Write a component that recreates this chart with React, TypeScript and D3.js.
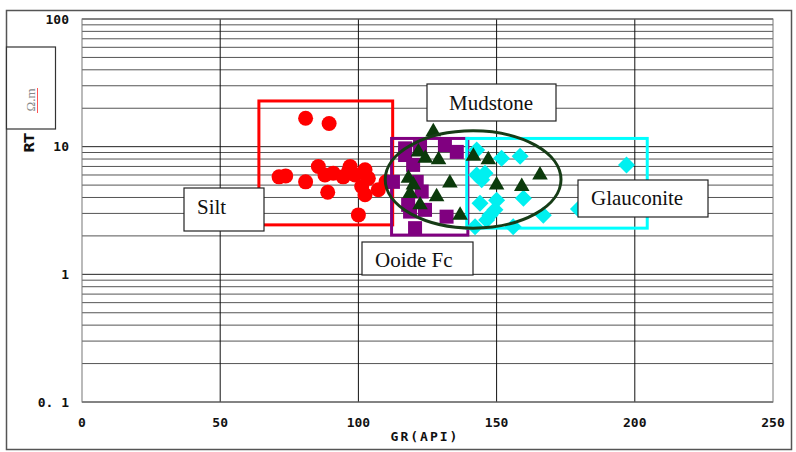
import React from "react";
import * as d3 from "d3";

// Silt samples (GR in API, RT in ohm·m)
const siltGR = [80.9, 89.4, 71.3, 73.7, 80.9, 85.5, 87.9, 90.9, 88.9, 94.5, 97, 96.4, 98.8, 102.4, 103.6, 101.2, 102.4, 107.2, 100, 110];
const siltRT = [16.7, 15.2, 5.8, 5.9, 5.3, 7.0, 6.0, 6.2, 4.4, 5.8, 7.0, 6.4, 6.0, 6.6, 5.65, 4.87, 4.2, 4.6, 2.92, 5.3];

// Ooide Fc samples
const ooideGR = [116.9, 122.3, 131.3, 135.6, 119.8, 112.5, 121.1, 122.9, 118, 118.7, 124.1, 131.9, 120.5, 116.9];
const ooideRT = [9.7, 10, 10.3, 9.1, 7.2, 5.3, 5.3, 4.45, 3.5, 3.1, 3.2, 2.83, 2.3, 8.6];

// Mudstone samples
const mudGR = [127.1, 121.7, 124.2, 129, 118.1, 119.9, 118.7, 133.1, 128.3, 122.3, 136.8, 141.6, 147, 150, 159.1, 165.7];
const mudRT = [13.1, 9.1, 8.1, 7.9, 5.65, 5.0, 4.3, 5.2, 4.05, 3.5, 2.9, 8.4, 7.9, 5.0, 4.87, 6.0];

// Glauconite samples
const glauGR = [142.8, 151.8, 158.5, 142.8, 145.8, 144.6, 144, 150, 149.4, 147.6, 159.7, 166.9, 156, 142.2, 146.4, 197, 179.6];
const glauRT = [9.4, 8.1, 8.4, 6.0, 6.2, 5.5, 3.6, 3.8, 3.2, 2.9, 3.95, 2.9, 2.36, 2.36, 2.67, 7.2, 3.25];

// Facies envelopes: [GR min, GR max, RT min, RT max]
const siltBox = [64, 112.4, 2.44, 22.8];
const ooideBox = [112, 139.6, 2.03, 11.6];
const glauBox = [139.2, 204.5, 2.3, 11.6];
// Mudstone ellipse: centre GR, centre RT, GR half-width, RT at top, RT at bottom
const mudEllipse = [141.5, 5.55, 31.8, 13.3, 2.3];

const xTicks = [0, 50, 100, 150, 200, 250];
const yTickLabels = [
  { v: 100, t: "100" },
  { v: 10, t: "10" },
  { v: 1, t: "1" },
  { v: 0.1, t: "0. 1" },
];

const W = 796;
const H = 452;

export default function App() {
  const x = d3.scaleLinear().domain([0, 250]).range([82, 773]);
  const y = d3.scaleLog().domain([0.1, 100]).range([402, 19]);

  const minorVals: number[] = [];
  [0.1, 1, 10].forEach((d) => {
    for (let k = 2; k <= 9; k++) minorVals.push(d * k);
  });
  const majorVals = [0.1, 1, 10, 100];

  const tickFont = "'DejaVu Sans Mono', 'Liberation Mono', monospace";
  const labelFont = "'Liberation Serif', 'DejaVu Serif', serif";

  const rectOf = (b: number[]) => ({
    x: x(b[0]),
    y: y(b[3]),
    width: x(b[1]) - x(b[0]),
    height: y(b[2]) - y(b[3]),
  });

  const sb = rectOf(siltBox);
  const ob = rectOf(ooideBox);
  const gb = rectOf(glauBox);

  const ecx = x(mudEllipse[0]);
  const ecy = (y(mudEllipse[3]) + y(mudEllipse[4])) / 2;
  const erx = x(mudEllipse[0] + mudEllipse[2]) - ecx;
  const ery = (y(mudEllipse[4]) - y(mudEllipse[3])) / 2;

  const tri = d3.symbol().type(d3.symbolTriangle).size(105)();
  const sq = 14;
  const dia = 8.5;

  return (
    <svg
      width={W}
      height={H}
      style={{ position: "absolute", left: 0, top: 0, display: "block", background: "#fff" }}
    >
      <rect x={0} y={0} width={W} height={H} fill="#fff" />
      {/* outer frame */}
      <rect x={6.5} y={10.5} width={785} height={439} fill="none" stroke="#555" strokeWidth={1.5} />

      {/* grid */}
      {minorVals.map((v) => (
        <line key={"m" + v} x1={x(0)} x2={x(250)} y1={y(v)} y2={y(v)} stroke="#555" strokeWidth={1} />
      ))}
      {majorVals.map((v) => (
        <line key={"M" + v} x1={x(0)} x2={x(250)} y1={y(v)} y2={y(v)} stroke="#222" strokeWidth={1} />
      ))}
      {[50, 100, 150, 200].map((v) => (
        <line key={"v" + v} x1={x(v)} x2={x(v)} y1={y(100)} y2={y(0.1)} stroke="#111" strokeWidth={1} />
      ))}
      <rect
        x={x(0)}
        y={y(100)}
        width={x(250) - x(0)}
        height={y(0.1) - y(100)}
        fill="none"
        stroke="#777"
        strokeWidth={1}
      />

      {/* tick labels */}
      {yTickLabels.map((d) => (
        <text
          key={"yt" + d.v}
          x={69}
          y={y(d.v)}
          dy="0.35em"
          textAnchor="end"
          fontFamily={tickFont}
          fontWeight="bold"
          fontSize={13}
          fill="#111"
        >
          {d.t}
        </text>
      ))}
      {xTicks.map((v) => (
        <text
          key={"xt" + v}
          x={x(v)}
          y={427}
          textAnchor="middle"
          fontFamily={tickFont}
          fontWeight="bold"
          fontSize={13}
          fill="#111"
        >
          {v}
        </text>
      ))}
      <text
        x={425}
        y={441}
        textAnchor="middle"
        fontFamily={tickFont}
        fontWeight="bold"
        fontSize={13}
        letterSpacing={2}
        fill="#111"
      >
        GR(API)
      </text>

      {/* y axis title */}
      <rect x={6.5} y={47} width={49} height={82} fill="#fff" stroke="#333" strokeWidth={1.2} />
      <text
        transform="translate(35,100) rotate(-90)"
        textAnchor="middle"
        fontFamily={labelFont}
        fontSize={13}
        fill="#888"
      >
        Ω.m
      </text>
      <line x1={37.5} x2={37.5} y1={88} y2={113} stroke="#f55" strokeWidth={1} />
      <text
        transform="translate(34,143) rotate(-90)"
        textAnchor="middle"
        fontFamily="'DejaVu Sans', sans-serif"
        fontWeight="bold"
        fontSize={14}
        fill="#111"
      >
        RT
      </text>

      {/* Silt */}
      <rect {...sb} fill="none" stroke="#ff0000" strokeWidth={3} />
      {siltGR.map((g, i) => (
        <circle key={"s" + i} cx={x(g)} cy={y(siltRT[i])} r={7.5} fill="#ff0000" />
      ))}

      {/* Ooide Fc */}
      <rect {...ob} fill="none" stroke="#800080" strokeWidth={3} />
      {ooideGR.map((g, i) => (
        <rect
          key={"o" + i}
          x={x(g) - sq / 2}
          y={y(ooideRT[i]) - sq / 2}
          width={sq}
          height={sq}
          fill="#800080"
        />
      ))}

      {/* Glauconite */}
      <rect {...gb} fill="none" stroke="#00ffff" strokeWidth={3} />
      {glauGR.map((g, i) => {
        const cx = x(g);
        const cy = y(glauRT[i]);
        return (
          <path
            key={"g" + i}
            d={`M${cx},${cy - dia}L${cx + dia},${cy}L${cx},${cy + dia}L${cx - dia},${cy}Z`}
            fill="#00f0f0"
          />
        );
      })}

      {/* Mudstone */}
      {mudGR.map((g, i) => (
        <path
          key={"t" + i}
          d={tri || ""}
          transform={`translate(${x(g)},${y(mudRT[i])})`}
          fill="#0b3a0b"
        />
      ))}
      <ellipse cx={ecx} cy={ecy} rx={erx} ry={ery} fill="none" stroke="#163c16" strokeWidth={3} />

      {/* facies labels */}
      <rect x={427} y={84} width={129} height={37} fill="#fff" stroke="#222" strokeWidth={1.2} />
      <text x={491} y={110} textAnchor="middle" fontFamily={labelFont} fontSize={21} fill="#111">
        Mudstone
      </text>

      <rect x={184} y={188} width={80} height={43} fill="#fff" stroke="#222" strokeWidth={1.2} />
      <text x={197} y={214} fontFamily={labelFont} fontSize={21} fill="#111">
        Silt
      </text>

      <rect x={362} y={242} width={111} height={33} fill="#fff" stroke="#222" strokeWidth={1.2} />
      <text x={375} y={267} fontFamily={labelFont} fontSize={21} fill="#111">
        Ooide Fc
      </text>

      <rect x={578} y={180} width={130} height={37} fill="#fff" stroke="#222" strokeWidth={1.2} />
      <text x={591} y={205} fontFamily={labelFont} fontSize={21} fill="#111">
        Glauconite
      </text>
    </svg>
  );
}
